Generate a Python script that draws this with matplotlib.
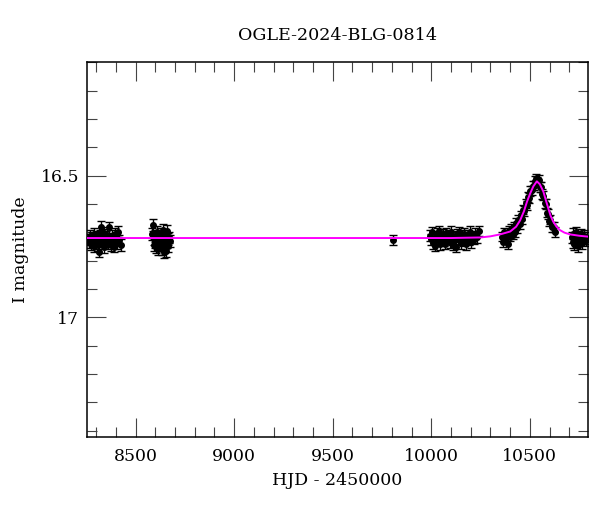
import matplotlib
matplotlib.use("Agg")
import matplotlib.pyplot as plt
from matplotlib.ticker import MultipleLocator, FixedLocator, FixedFormatter

plt.rcParams['font.family'] = ['DejaVu Serif']

title = "OGLE-2024-BLG-0814"
xlabel = "HJD - 2450000"
ylabel = "I magnitude"

# Season 1
t1 = [8262, 8266, 8270, 8274, 8278, 8283, 8287, 8291, 8295, 8299, 8303, 8307,
      8311, 8316, 8320, 8325, 8329, 8333, 8338, 8342, 8346, 8351, 8355, 8360,
      8365, 8369, 8374, 8378, 8383, 8388, 8393, 8398, 8404, 8411, 8418, 8425]
m1 = [16.725, 16.735, 16.712, 16.742, 16.718, 16.730, 16.748, 16.705, 16.722, 16.738, 16.715, 16.728,
      16.745, 16.768, 16.710, 16.680, 16.725, 16.740, 16.702, 16.752, 16.730, 16.715, 16.708, 16.738,
      16.682, 16.728, 16.745, 16.712, 16.733, 16.750, 16.722, 16.705, 16.738, 16.698, 16.728, 16.745]
# Season 2
t2 = [8585, 8588, 8591, 8594, 8597, 8600, 8603, 8606, 8609, 8612, 8615, 8618, 8621, 8624, 8627,
      8630, 8633, 8636, 8639, 8642, 8645, 8648, 8651, 8654, 8657, 8660, 8663, 8666, 8670, 8675]
m2 = [16.705, 16.675, 16.725, 16.745, 16.712, 16.735, 16.752, 16.720, 16.700, 16.738, 16.760, 16.715,
      16.728, 16.745, 16.705, 16.732, 16.758, 16.722, 16.690, 16.742, 16.770, 16.728, 16.712, 16.765,
      16.735, 16.695, 16.725, 16.748, 16.718, 16.730]
# Lone point
t_lone = [9806]
m_lone = [16.727]
# Season 3
t3 = [9992, 9998, 10004, 10010, 10016, 10022, 10028, 10034, 10040, 10046, 10052, 10058, 10064, 10070,
      10076, 10082, 10088, 10094, 10100, 10106, 10112, 10118, 10124, 10130, 10136, 10142, 10148, 10154,
      10160, 10166, 10172, 10178, 10184, 10190, 10196, 10202, 10208, 10214, 10222, 10232, 10244]
m3 = [16.712, 16.725, 16.700, 16.738, 16.748, 16.715, 16.705, 16.728, 16.695, 16.742, 16.718, 16.708,
      16.730, 16.740, 16.702, 16.720, 16.712, 16.735, 16.698, 16.725, 16.745, 16.715, 16.750, 16.708,
      16.722, 16.700, 16.738, 16.712, 16.728, 16.705, 16.718, 16.742, 16.710, 16.725, 16.698, 16.735,
      16.715, 16.722, 16.705, 16.718, 16.695]
# Season 4 (event)
t4 = [10358, 10364, 10370, 10376, 10382, 10388, 10394, 10400, 10406, 10412, 10418, 10424, 10430, 10436,
      10442, 10448, 10454, 10460, 10466, 10472, 10478, 10484, 10490, 10496, 10502, 10508, 10514, 10520,
      10526, 10532, 10538, 10544, 10550, 10556, 10562, 10568, 10574, 10580, 10586, 10592, 10598, 10604,
      10612, 10620, 10627]
m4 = [16.715, 16.735, 16.700, 16.725, 16.708, 16.740, 16.695, 16.715, 16.688, 16.708, 16.680, 16.698,
      16.668, 16.685, 16.655, 16.670, 16.640, 16.652, 16.620, 16.625, 16.598, 16.605, 16.575, 16.578,
      16.555, 16.552, 16.535, 16.535, 16.518, 16.512, 16.520, 16.515, 16.540, 16.540, 16.565, 16.570,
      16.598, 16.600, 16.630, 16.635, 16.660, 16.655, 16.680, 16.682, 16.698]
# Season 5
t5 = [10712, 10716, 10720, 10724, 10728, 10733, 10738, 10743, 10748, 10753, 10758, 10764, 10770,
      10776, 10782, 10788]
m5 = [16.718, 16.735, 16.705, 16.742, 16.722, 16.700, 16.730, 16.748, 16.715, 16.725, 16.708, 16.738,
      16.720, 16.712, 16.728, 16.720]

errs = [0.020, 0.021, 0.018, 0.019, 0.017, 0.020]

# Model curve
model_t = [8255, 10100, 10250, 10300, 10350, 10400, 10430, 10450, 10470, 10485, 10500, 10517,
           10535, 10550, 10568, 10580, 10593, 10605, 10618, 10635, 10652, 10675, 10702, 10750, 10793]
model_m = [16.720, 16.720, 16.718, 16.714, 16.707, 16.697, 16.680, 16.658, 16.625, 16.592, 16.565,
           16.538, 16.520, 16.530, 16.556, 16.585, 16.615, 16.642, 16.662, 16.680, 16.692, 16.701,
           16.707, 16.712, 16.715]

ytick_vals = [16.5, 17.0]
ytick_labels = ["16.5", "17"]

fig = plt.figure(figsize=(6.0, 5.12), dpi=100)
ax = fig.add_axes([87.3/600, 1-436.7/512, (587.7-87.3)/600, (436.7-62.3)/512])

for t, m, e in zip([t1, t2, t_lone, t3, t4, t5], [m1, m2, m_lone, m3, m4, m5], errs):
    ax.errorbar(t, m, yerr=e, fmt='o', color='black', ms=4, elinewidth=1.0,
                capsize=3.2, capthick=1.0, zorder=2)

ax.plot(model_t, model_m, color='#ff00ff', lw=1.4, zorder=3)

ax.set_xlim(8255, 10793)
ax.set_ylim(17.421, 16.1)
ax.xaxis.set_major_locator(MultipleLocator(500))
ax.xaxis.set_minor_locator(MultipleLocator(100))
ax.yaxis.set_major_locator(FixedLocator(ytick_vals))
ax.yaxis.set_major_formatter(FixedFormatter(ytick_labels))
ax.yaxis.set_minor_locator(MultipleLocator(0.1))

ax.tick_params(which='both', direction='in', top=True, right=True, labelsize=12.4,
               width=0.8, color='#444444')
ax.tick_params(which='major', length=13.5, pad=8)
ax.tick_params(which='minor', length=7)
ax.tick_params(axis='y', which='major', pad=6)
for s in ax.spines.values():
    s.set_linewidth(1.1)

ax.set_title(title, fontsize=12.6, pad=16)
ax.set_xlabel(xlabel, fontsize=12.5, labelpad=5)
ax.set_ylabel(ylabel, fontsize=12.5, labelpad=8)

fig.savefig("out.png", dpi=100)
